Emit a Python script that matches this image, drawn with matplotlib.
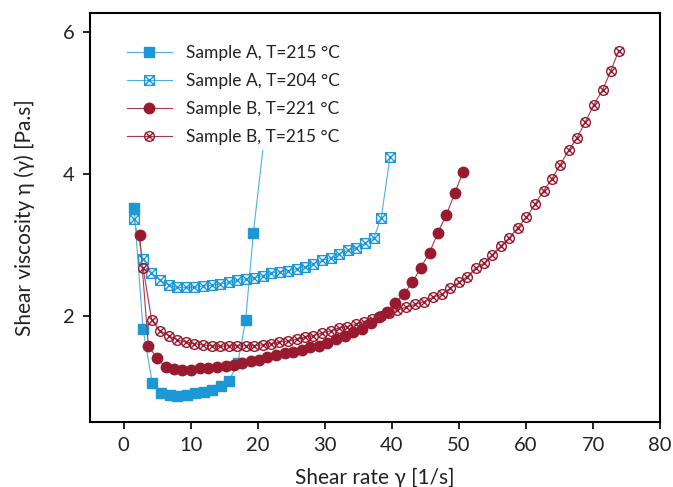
import matplotlib
matplotlib.use("Agg")
import matplotlib.pyplot as plt
from matplotlib.path import Path

# shear rate [1/s] and viscosity [Pa.s]
rate_a215 = [1.54, 2.88, 4.27, 5.51, 6.86, 8.0, 9.39, 10.63, 11.97, 13.11, 14.46, 15.7, 17.0, 18.18, 19.33, 21.8]
visc_a215 = [3.52, 1.81, 1.05, 0.92, 0.88, 0.87, 0.88, 0.91, 0.93, 0.95, 1.02, 1.09, 1.33, 1.94, 3.17, 5.2]

rate_a204 = [1.54, 2.88, 4.12, 5.41, 6.75, 8.0, 9.24, 10.48, 11.82, 13.11, 14.35, 15.7, 16.94, 18.18,
             19.42, 20.7, 21.9, 23.25, 24.49, 25.78, 27.02, 28.27, 29.61, 30.85, 32.09, 33.43, 34.68,
             35.92, 37.3, 38.4, 39.7]
visc_a204 = [3.36, 2.80, 2.61, 2.50, 2.43, 2.40, 2.40, 2.40, 2.42, 2.43, 2.45, 2.47, 2.50, 2.52,
             2.53, 2.565, 2.60, 2.62, 2.635, 2.66, 2.69, 2.73, 2.78, 2.82, 2.87, 2.92, 2.96,
             3.02, 3.10, 3.38, 4.23]

rate_b221 = [2.38, 3.68, 5.02, 6.26, 7.5, 8.74, 10.08, 11.33, 12.6, 13.86, 15.2, 16.44, 17.69, 18.93,
             20.17, 21.4, 22.65, 23.99, 25.23, 26.53, 27.77, 29.1, 30.36, 31.7, 32.98, 34.23, 35.5,
             36.8, 38.05, 39.2, 40.5, 41.77, 43.05, 44.3, 45.6, 46.84, 48.1, 49.38, 50.57]
visc_b221 = [3.14, 1.57, 1.40, 1.28, 1.25, 1.24, 1.24, 1.26, 1.27, 1.28, 1.29, 1.31, 1.34, 1.36,
             1.38, 1.42, 1.45, 1.48, 1.49, 1.52, 1.56, 1.58, 1.62, 1.67, 1.71, 1.77, 1.82,
             1.90, 1.98, 2.06, 2.18, 2.31, 2.47, 2.68, 2.89, 3.17, 3.42, 3.73, 4.02]

rate_b215 = [2.88, 4.17, 5.41, 6.75, 8.0, 9.24, 10.48, 11.82, 13.11, 14.35, 15.7, 16.94, 18.18, 19.42,
             20.7, 21.9, 23.15, 24.49, 25.78, 27.02, 28.27, 29.61, 30.85, 32.09, 33.33, 34.68, 35.8,
             37.06, 38.3, 39.54, 40.8, 42.1, 43.4, 44.8, 46.1, 47.5, 48.7, 49.97, 51.2, 52.46, 53.7,
             54.95, 56.2, 57.5, 58.76, 60.06, 61.4, 62.6, 63.8, 65.1, 66.36, 67.6, 68.85, 70.1,
             71.4, 72.6, 73.8]
visc_b215 = [2.68, 1.94, 1.79, 1.72, 1.66, 1.63, 1.61, 1.59, 1.58, 1.57, 1.58, 1.58, 1.58, 1.58,
             1.59, 1.61, 1.63, 1.645, 1.67, 1.70, 1.72, 1.76, 1.79, 1.83, 1.85, 1.88, 1.92,
             1.96, 2.00, 2.04, 2.08, 2.12, 2.16, 2.20, 2.26, 2.31, 2.39, 2.47, 2.55, 2.67, 2.74,
             2.86, 2.98, 3.10, 3.24, 3.39, 3.58, 3.76, 3.92, 4.13, 4.33, 4.51, 4.73, 4.97,
             5.18, 5.44, 5.73]

labels = ["Sample A, T=215 °C", "Sample A, T=204 °C", "Sample B, T=221 °C", "Sample B, T=215 °C"]

blue = "#1b98d5"
blue_line = "#4fb0e2"
red = "#991a2e"
red_line = "#a83a4c"

# square with an X inside, circle with an X inside
sq = Path([(-1, -1), (1, -1), (1, 1), (-1, 1), (-1, -1), (-1, -1), (1, 1), (-1, 1), (1, -1)],
          [Path.MOVETO, Path.LINETO, Path.LINETO, Path.LINETO, Path.CLOSEPOLY,
           Path.MOVETO, Path.LINETO, Path.MOVETO, Path.LINETO])
d = 0.8
cross = Path([(-d, -d), (d, d), (-d, d), (d, -d)],
             [Path.MOVETO, Path.LINETO, Path.MOVETO, Path.LINETO])
circ_x = Path.make_compound_path(Path.unit_circle(), cross)

plt.rcParams['font.family'] = ['Lato', 'DejaVu Sans']
txt = "#222222"

fig = plt.figure(figsize=(6.73, 4.87), dpi=100)
ax = fig.add_axes([0.134, 0.134, 0.847, 0.839])

ax.plot(rate_a215, visc_a215, color=blue_line, lw=0.8, marker='s', ms=6.5,
        mfc=blue, mec=blue, label=labels[0])
ax.plot(rate_a204, visc_a204, color=blue_line, lw=0.8, marker=sq, ms=7,
        mfc='none', mec=blue, mew=1.0, label=labels[1])
ax.plot(rate_b221, visc_b221, color=red_line, lw=0.8, marker='o', ms=7.5,
        mfc=red, mec=red, label=labels[2])
ax.plot(rate_b215, visc_b215, color=red_line, lw=0.8, marker=circ_x, ms=7,
        mfc='none', mec=red, mew=1.0, label=labels[3])

ax.set_xlim(-5, 80)
ax.set_ylim(0.51, 6.26)
ax.set_xticks(range(0, 81, 10))
ax.set_yticks([2, 4, 6])
ax.tick_params(axis='both', labelsize=14.5, labelcolor=txt, length=5, width=1.2,
               direction='out', pad=6)
for s in ax.spines.values():
    s.set_linewidth(1.5)

ax.set_xlabel("Shear rate γ [1/s]", fontsize=15, color=txt, labelpad=10)
ax.set_ylabel("Shear viscosity η (γ) [Pa.s]", fontsize=15, color=txt, labelpad=20)

leg = ax.legend(loc='upper left', bbox_to_anchor=(0.04, 0.955), fontsize=12.5,
                handlelength=2.6, handletextpad=0.8, labelspacing=0.68,
                frameon=True, facecolor='white', edgecolor='none', framealpha=1,
                borderpad=0.3)
for t in leg.get_texts():
    t.set_color(txt)

fig.savefig("out.png", dpi=100)
